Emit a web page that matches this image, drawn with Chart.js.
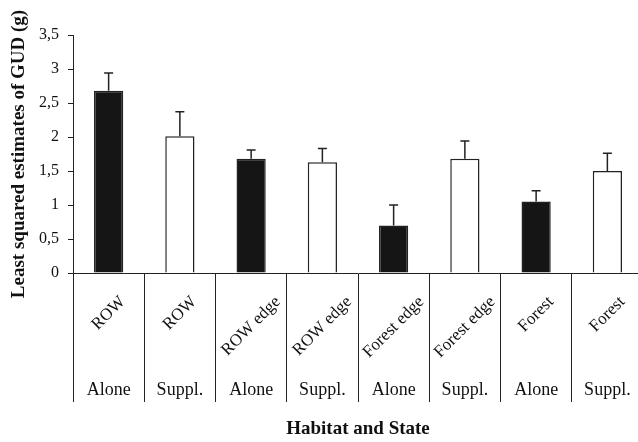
<!DOCTYPE html>
<html>
<head>
<meta charset="utf-8">
<script src="https://cdn.jsdelivr.net/npm/chart.js@4"></script>
<style>
  html, body { margin: 0; padding: 0; background: #fff; overflow: hidden; }
</style>
</head>
<body>
<canvas id="gudChart" width="644" height="442"></canvas>
<script>
// valores
const habitats = ['ROW', 'ROW', 'ROW edge', 'ROW edge', 'Forest edge', 'Forest edge', 'Forest', 'Forest'];
const states = ['Alone', 'Suppl.', 'Alone', 'Suppl.', 'Alone', 'Suppl.', 'Alone', 'Suppl.'];
const gud = [2.68, 2.01, 1.68, 1.63, 0.70, 1.68, 1.05, 1.50];
const errores = [0.26, 0.36, 0.13, 0.20, 0.30, 0.26, 0.16, 0.26];
const yTicks = [0, 0.5, 1, 1.5, 2, 2.5, 3, 3.5];

const serif = '"Liberation Serif", "Times New Roman", serif';
const colores = states.map(s => s === 'Alone' ? '#151515' : '#ffffff');

// barras de error (solo hacia arriba) y etiquetas del eje x
const extras = {
    id: 'extras',
    afterDatasetsDraw(chart) {
        const ctx = chart.ctx;
        const y = chart.scales.y;
        const barras = chart.getDatasetMeta(0).data;
        ctx.save();
        ctx.strokeStyle = '#222';
        ctx.lineWidth = 1.5;
        barras.forEach((bar, i) => {
            const top = y.getPixelForValue(gud[i]);
            const fin = y.getPixelForValue(gud[i] + errores[i]);
            ctx.beginPath();
            ctx.moveTo(bar.x, top);
            ctx.lineTo(bar.x, fin);
            ctx.moveTo(bar.x - 4.5, fin);
            ctx.lineTo(bar.x + 4.5, fin);
            ctx.stroke();
        });
        ctx.restore();
    },
    afterDraw(chart) {
        const ctx = chart.ctx;
        const x = chart.scales.x;
        ctx.save();
        ctx.fillStyle = '#111';
        habitats.forEach((h, i) => {
            const cx = x.getPixelForValue(i);
            ctx.font = '17px ' + serif;
            const w = ctx.measureText(h).width;
            const cy = 295 + (w + 12) / (2 * Math.SQRT2);
            ctx.save();
            ctx.translate(cx, cy);
            ctx.rotate(-Math.PI / 4);
            ctx.textAlign = 'center';
            ctx.textBaseline = 'middle';
            ctx.fillText(h, 0, 0);
            ctx.restore();

            ctx.font = '18px ' + serif;
            ctx.textAlign = 'center';
            ctx.textBaseline = 'alphabetic';
            ctx.fillText(states[i], cx, 395);
        });
        ctx.restore();
    }
};

const data = {
    labels: habitats,
    datasets: [{
        data: gud,
        backgroundColor: colores,
        borderColor: '#222',
        borderWidth: 1.5,
        barPercentage: 0.41,
        categoryPercentage: 1
    }]
};

const config = {
    type: 'bar',
    data: data,
    options: {
        responsive: false,
        animation: false,
        layout: { padding: { top: 35, right: 1, left: 0, bottom: 0 } },
        plugins: {
            legend: { display: false },
            tooltip: { enabled: false }
        },
        scales: {
            x: {
                afterFit(scale) { scale.height = 169; },
                border: { display: true, color: '#222', width: 1 },
                grid: {
                    offset: true,
                    drawOnChartArea: false,
                    drawTicks: true,
                    tickLength: 129,
                    color: '#222'
                },
                ticks: { display: false },
                title: {
                    display: true,
                    text: 'Habitat and State',
                    color: '#111',
                    font: { family: serif, size: 19, weight: 'bold' },
                    padding: { bottom: 2 }
                }
            },
            y: {
                min: 0,
                max: 3.5,
                afterFit(scale) { scale.width = 73; },
                afterBuildTicks(scale) { scale.ticks = yTicks.map(v => ({ value: v })); },
                border: { display: true, color: '#222', width: 1 },
                grid: {
                    drawOnChartArea: false,
                    drawTicks: true,
                    tickLength: 5,
                    color: '#222'
                },
                ticks: {
                    padding: 9,
                    color: '#111',
                    font: { family: serif, size: 16 },
                    callback: v => String(v).replace('.', ',')
                },
                title: {
                    display: true,
                    text: 'Least squared estimates of GUD (g)',
                    color: '#111',
                    font: { family: serif, size: 19, weight: 'bold' },
                    padding: { top: 8 }
                }
            }
        }
    },
    plugins: [extras]
};

const ctx = document.getElementById('gudChart').getContext('2d');
new Chart(ctx, config);
</script>
</body>
</html>
